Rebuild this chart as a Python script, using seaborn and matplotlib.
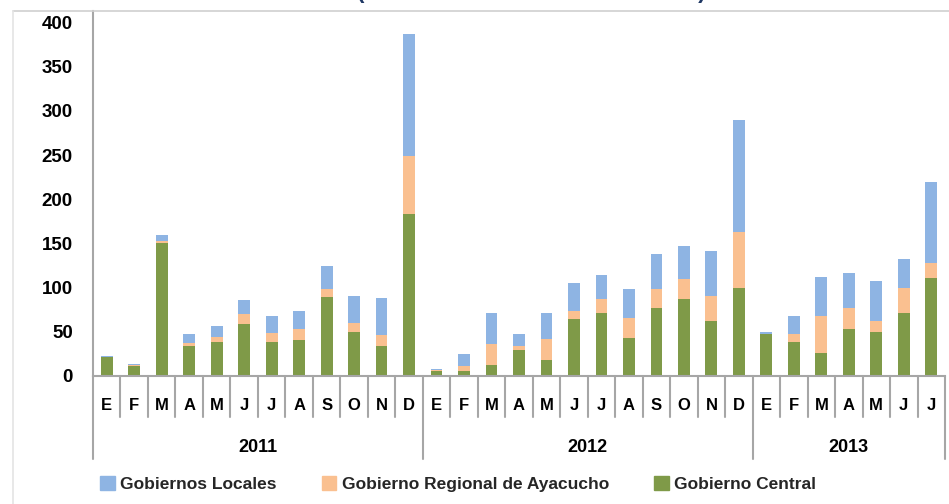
import numpy as np
import pandas as pd
import matplotlib
matplotlib.use("Agg")
import matplotlib.pyplot as plt
from matplotlib.lines import Line2D
from matplotlib.patches import Patch
import matplotlib.transforms as mtransforms
import seaborn as sns

months = ["E", "F", "M", "A", "M", "J", "J", "A", "S", "O", "N", "D"] * 2 + \
         ["E", "F", "M", "A", "M", "J", "J"]
years = ["2011"] * 12 + ["2012"] * 12 + ["2013"] * 7
year_labels = ["2011", "2012", "2013"]

central = [21, 11.5, 150, 33.5, 38.5, 59, 38.5, 40.5, 89, 50, 33.5, 183.5,
           6, 6, 13, 29, 18.5, 64, 71, 42.5, 76.5, 87.5, 62, 100,
           47, 38.5, 25.5, 53.5, 50, 71, 111]
regional = [0.5, 0.5, 3, 3.5, 6, 11, 10, 12.5, 9, 10.5, 12.5, 65,
            0.5, 5.5, 23.5, 5.5, 23.5, 9, 16, 23.5, 22, 22, 29, 63.5,
            0, 9.5, 42.5, 23, 12.5, 29, 16.5]
locales = [1.5, 1.5, 6, 10.5, 12.5, 16, 19.5, 20, 26, 30.5, 42, 139,
           1.5, 13, 34.5, 13, 29, 32.5, 27.5, 32.5, 39.5, 37.5, 51, 126,
           2.5, 20, 43.5, 40.5, 45, 32.5, 92]

series_names = ["Gobiernos Locales", "Gobierno Regional de Ayacucho", "Gobierno Central"]
c_blue = "#8EB4E3"
c_orange = "#FAC090"
c_green = "#7F9A48"
c_grid = "#A6A6A6"

sns.set_style("white")
plt.rcParams["font.family"] = ["Liberation Sans", "DejaVu Sans"]
plt.rcParams["font.weight"] = "bold"

df = pd.DataFrame({
    "key": [f"{y}-{i}" for i, y in enumerate(years)],
    "month": months,
    "year": years,
    "central": central,
    "regional": regional,
    "locales": locales,
})
df["mid"] = df["central"] + df["regional"]
df["total"] = df["mid"] + df["locales"]

W, H = 949, 504
fig = plt.figure(figsize=(W / 100, H / 100), dpi=100)
ax_l, ax_r, ax_t, ax_b = 93, 945, 11, 376
ax = fig.add_axes([ax_l / W, 1 - ax_b / H, (ax_r - ax_l) / W, (ax_b - ax_t) / H])

for col, color in [("total", c_blue), ("mid", c_orange), ("central", c_green)]:
    sns.barplot(data=df, x="key", y=col, color=color, width=0.43, saturation=1,
                errorbar=None, linewidth=0, ax=ax)

n = len(df)
ax.set_xlim(-0.5, n - 0.5)
ax.set_ylim(0, 413)
ax.set_yticks(np.arange(0, 401, 50))
ax.set_xticks([])
ax.set_xlabel("")
ax.set_ylabel("")
for s in ["top", "right"]:
    ax.spines[s].set_visible(False)
for s in ["left", "bottom"]:
    ax.spines[s].set_color(c_grid)
    ax.spines[s].set_linewidth(1.5)
ax.tick_params(axis="y", direction="inout", length=13, width=1, color=c_grid,
               pad=8, labelsize=13.5, labelcolor="black")
for lab in ax.get_yticklabels():
    lab.set_fontweight("bold")

# category axis: months, years and separators
trans = mtransforms.blended_transform_factory(ax.transData, ax.transAxes)
ah = ax_b - ax_t
y_month = -30 / ah
y_year = -71 / ah
y_short = -41 / ah
y_long = -83 / ah
for i, m in enumerate(months):
    ax.text(i, y_month, m, transform=trans, ha="center", va="center",
            fontsize=12, fontweight="bold", color="black")
bounds = [0]
for i in range(1, n):
    if years[i] != years[i - 1]:
        bounds.append(i)
bounds.append(n)
for i in range(n + 1):
    yy = y_long if i in bounds else y_short
    ax.add_line(Line2D([i - 0.5, i - 0.5], [0, yy], transform=trans, color=c_grid,
                       lw=1.5, clip_on=False))
for k, yl in enumerate(year_labels):
    xc = (bounds[k] + bounds[k + 1] - 1) / 2
    ax.text(xc, y_year, yl, transform=trans, ha="center", va="center",
            fontsize=13, fontweight="bold", color="black")

# chart area border
fig.add_artist(Line2D([13 / W, 1], [1 - 11 / H, 1 - 11 / H], color="#D0D0D0", lw=1.2))
fig.add_artist(Line2D([13 / W, 13 / W], [0, 1 - 11 / H], color="#E4E4E4", lw=1.2))

# clipped title (only the bottoms of the parentheses are visible)
fig.text(531 / W, 1 + 2 / H, "(MILLONES DE NUEVOS SOLES)", ha="center", va="baseline",
         fontsize=16, fontweight="bold", color="#1F3864")

handles = [Patch(color=c_blue), Patch(color=c_orange), Patch(color=c_green)]
fig.legend(handles, series_names, loc="center", bbox_to_anchor=(458 / W, 1 - 484 / H),
           ncol=3, frameon=False, handlelength=0.85, handleheight=0.85,
           handletextpad=0.3, columnspacing=2.6, prop={"weight": "bold", "size": 12.5})

fig.savefig("out.png", dpi=100)
